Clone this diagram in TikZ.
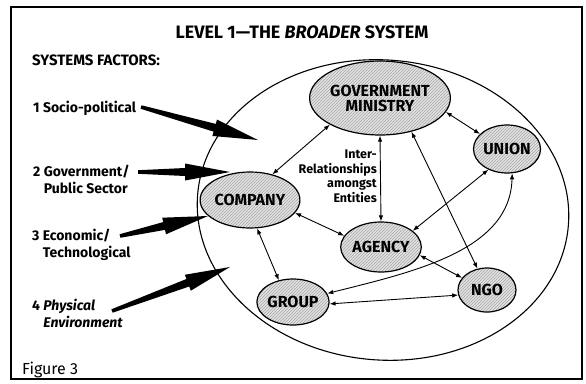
\documentclass[tikz,border=0pt]{standalone}
\usepackage{fontspec}
\setmainfont{Fira Sans}
\usetikzlibrary{arrows.meta,shapes.geometric,patterns,calc}

% tapered factor arrow: start, tip
\newcommand\bigarrow[2]{%
  \coordinate (h) at ($(#2)!45pt!(#1)$);
  \fill ($(#1)!1.8pt!90:(#2)$) -- ($(h)!4pt!90:(#2)$) -- ($(h)!8.5pt!90:(#2)$) -- (#2)
    -- ($(h)!8.5pt!-90:(#2)$) -- ($(h)!4pt!-90:(#2)$) -- ($(#1)!1.8pt!-90:(#2)$) -- cycle;}

\begin{document}
\begin{tikzpicture}[x=1pt,y=-1pt,
    entity/.style={ellipse, draw, line width=1.2pt, inner sep=0pt,
      preaction={fill=gray!22}, pattern=north east lines, pattern color=gray!70,
      font=\bfseries\fontsize{16}{15}\selectfont},
    link/.style={{Latex[length=6pt,width=4.5pt]}-{Latex[length=6pt,width=4.5pt]}, line width=0.9pt},
    factor/.style={anchor=base west, inner sep=0pt, font=\bfseries\fontsize{14}{17}\selectfont}]
  \useasboundingbox (0,0) rectangle (586,383);
  \draw[line width=2.2pt] (11,7) rectangle (582,379);

  % headings
  \node[anchor=base, inner sep=0pt, font=\bfseries\fontsize{18}{18}\selectfont] (title) at (302,38)
    {LEVEL 1---THE \textit{BROADER} SYSTEM};
  \node[anchor=base west, inner sep=0pt, font=\bfseries\fontsize{15}{15}\selectfont] (sysf) at (32,65)
    {SYSTEMS FACTORS:};
  \node[anchor=base west, inner sep=0pt, font=\fontsize{16}{16}\selectfont] (fig) at (22,374) {Figure 3};

  % the broader system
  \draw[line width=1.1pt, rotate around={-5:(383,210)}] (383,210) ellipse [x radius=186, y radius=150];

  % entities
  \node[entity, minimum width=114pt, minimum height=74pt, align=center] (gov) at (380,98)
    {GOVERNMENT\\MINISTRY};
  \node[entity, minimum width=50pt, minimum height=48pt] (union) at (507,149) {UNION};
  \node[entity, minimum width=80pt, minimum height=56pt] (company) at (250,200) {COMPANY};
  \node[entity, minimum width=76pt, minimum height=50pt] (agency) at (381,247) {AGENCY};
  \node[entity, minimum width=68pt, minimum height=46pt] (group) at (293,302) {GROUP};
  \node[entity, minimum width=58pt, minimum height=44pt] (ngo) at (487,290) {NGO};

  \node[align=right, anchor=north east, inner sep=0pt, font=\bfseries\fontsize{12.5}{14.5}\selectfont]
    (inter) at (377,150) {Inter-\\Relationships\\amongst\\Entities};

  % inter-relationships
  \draw[link] (gov.208) -- (company.49);
  \draw[link] (gov.348) -- (union.151);
  \draw[link] (gov.south) -- (agency.north);
  \draw[link] (gov.313) -- (ngo.114);
  \draw[link] (union.228) -- (agency.27);
  \draw[link] (company.344) -- (agency.163);
  \draw[link] (company.284) -- (group.123);
  \draw[link] (agency.348) -- (ngo.154);
  \draw[link] (group.357) -- (ngo.190);
  \draw[link] (union.282) .. controls +(-2,77) and +(88,-22) .. (group.14);

  % systems factors
  \node[factor] (f1) at (33,112) {1 Socio-political};
  \node[factor] (f2) at (33,176) {2 \begin{tabular}[t]{@{}l@{}}Government/\\Public Sector\end{tabular}};
  \node[factor] (f3) at (32,240) {3 \begin{tabular}[t]{@{}l@{}}Economic/\\Technological\end{tabular}};
  \node[factor] (f4) at (32,310) {4 \begin{tabular}[t]{@{}l@{}}\itshape Physical\\\itshape Environment\end{tabular}};

  \coordinate (s1) at (141,107); \coordinate (t1) at (258,140);
  \coordinate (s2) at (138,172); \coordinate (t2) at (230,172);
  \coordinate (s3) at (120,236); \coordinate (t3) at (208,216);
  \coordinate (s4) at (112,311); \coordinate (t4) at (230,267);
  \bigarrow{s1}{t1}
  \bigarrow{s2}{t2}
  \bigarrow{s3}{t3}
  \bigarrow{s4}{t4}
\end{tikzpicture}
\end{document}
